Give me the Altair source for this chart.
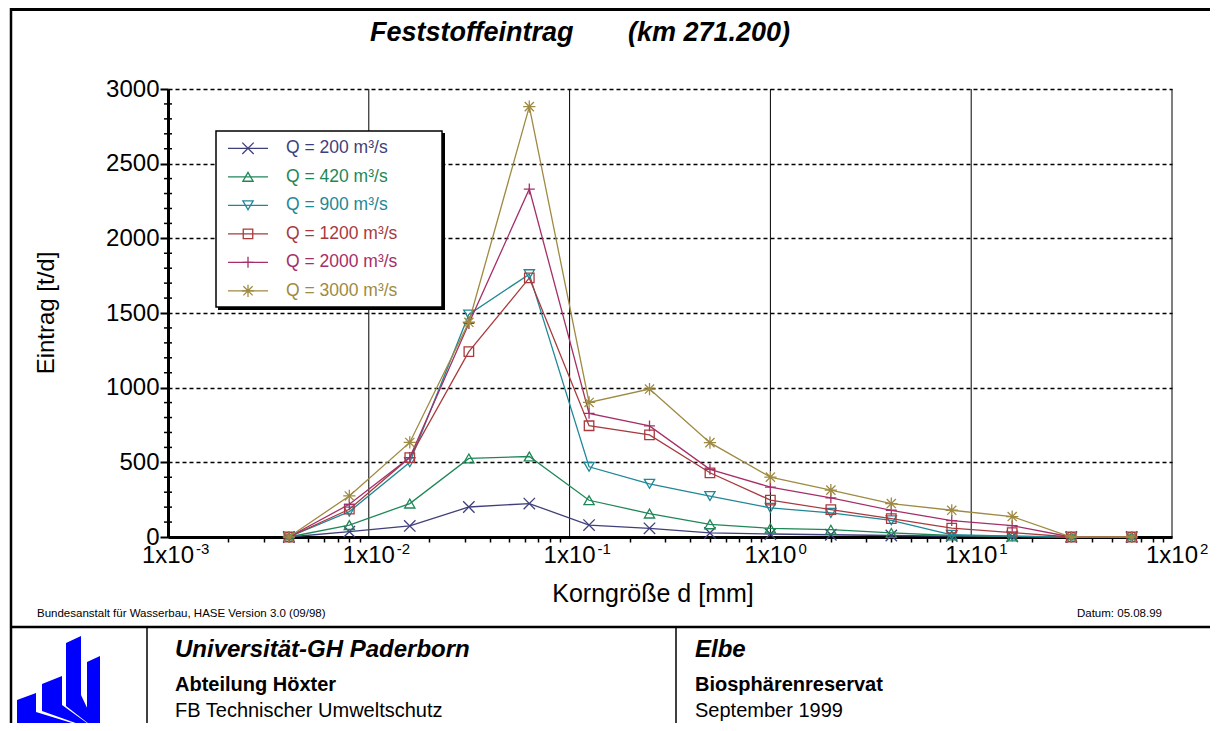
import altair as alt
import pandas as pd

# ---------------- data ----------------
grain_mm = [0.004, 0.008, 0.016, 0.0315, 0.063, 0.125, 0.25, 0.5, 1.0, 2.0, 4.0, 8.0, 16.0, 31.5, 63.0]

series_labels = ["Q = 200 m³/s", "Q = 420 m³/s", "Q = 900 m³/s",
                 "Q = 1200 m³/s", "Q = 2000 m³/s", "Q = 3000 m³/s"]

q200 = [0, 36, 74, 201, 224, 80, 58, 27, 20, 15, 10, 6, 4, 0, 0]
q420 = [0, 80, 224, 526, 539, 246, 157, 85, 58, 49, 27, 10, 4, 0, 0]
q900 = [0, 170, 500, 1490, 1760, 470, 356, 274, 195, 161, 112, 15, 5, 0, 0]
q1200 = [0, 186, 532, 1241, 1735, 745, 684, 430, 247, 184, 123, 60, 29, 0, 0]
q2000 = [0, 219, 532, 1430, 2330, 828, 744, 453, 334, 262, 179, 110, 76, 0, 0]
q3000 = [0, 275, 633, 1438, 2882, 901, 991, 632, 401, 314, 224, 179, 137, 0, 0]
series_values = [q200, q420, q900, q1200, q2000, q3000]

series_colors = ["#3f3f7c", "#1f8757", "#1f8796", "#a83a3e", "#a52f68", "#9e8a42"]

decades = [0.001, 0.01, 0.1, 1, 10, 100]
decade_base = ["1x10"] * 6
decade_exp = ["-3", "-2", "-1", "0", "1", "2"]
y_ticks = [0, 500, 1000, 1500, 2000, 2500, 3000]
y_minor = [v for v in range(100, 3000, 100) if v % 500]
x_minor = [m * 10.0 ** k for k in range(-3, 2) for m in range(2, 10)]

title_left = "Feststoffeintrag"
title_right = "(km 271.200)"
x_title = "Korngröße d [mm]"
y_title = "Eintrag [t/d]"
note_left = "Bundesanstalt für Wasserbau, HASE Version 3.0 (09/98)"
note_right = "Datum: 05.08.99"
foot_left = ["Universität-GH Paderborn", "Abteilung Höxter", "FB Technischer Umweltschutz"]
foot_right = ["Elbe", "Biosphärenreservat", "September 1999"]

# ---------------- layout ----------------
FONT = "Liberation Sans"
W, H = 1004, 448
PL, PT, PR, PB = 160, 81, 38, 186
X_END = 1202 - PL


def px(page_x):
    return page_x - 168


def py(page_y):
    return page_y - 89


one = pd.DataFrame({"k": [0]})
xscale = alt.Scale(type="log", domain=[0.001, 100], nice=False)
yscale = alt.Scale(domain=[0, 3000], nice=False, zero=True)

shape_x = "M-1,-1L1,1M-1,1L1,-1"
shape_plus = "M0,-1L0,1M-1,0L1,0"
shape_star = "M0,-1L0,1M-1,0L1,0M-0.75,-0.75L0.75,0.75M-0.75,0.75L0.75,-0.75"
marker_shapes = [shape_x, "triangle-up", "triangle-down", "square", shape_plus, shape_star]
marker_sizes = [130, 105, 105, 90, 120, 150]

X_ENC = alt.X("d:Q", scale=xscale)
Y_ENC = alt.Y("v:Q", scale=yscale)

layers = []

# axes carrier (invisible) with y grid and axes
axis_df = pd.DataFrame({"d": [0.001, 100], "v": [0, 3000]})
layers.append(
    alt.Chart(axis_df).mark_point(opacity=0).encode(
        x=alt.X("d:Q", scale=xscale, axis=alt.Axis(
            values=x_minor, labels=False, tickSize=5, tickWidth=1.5, tickColor="black",
            domainColor="black", domainWidth=3, grid=False, title=None)),
        y=alt.Y("v:Q", scale=yscale, axis=alt.Axis(
            values=y_ticks, tickSize=8, tickWidth=2, tickColor="black",
            labelFontSize=24, labelFont=FONT, labelColor="black", labelPadding=1,
            domainColor="black", domainWidth=3, grid=True, gridColor="black",
            gridDash=[4, 3], gridWidth=1.5, title=None, format="d")),
    )
)

# vertical decade lines
layers.append(
    alt.Chart(pd.DataFrame({"d": decades[1:]})).mark_rule(color="black", strokeWidth=1).encode(
        x=X_ENC, y=alt.value(0), y2=alt.value(H))
)

# minor y ticks crossing the axis
layers.append(
    alt.Chart(pd.DataFrame({"v": y_minor})).mark_rule(color="black", strokeWidth=1.5).encode(
        y=Y_ENC, x=alt.value(-4), x2=alt.value(4))
)

# data series
for lab, vals, col, shp, sz in zip(series_labels, series_values, series_colors, marker_shapes, marker_sizes):
    df = pd.DataFrame({"d": grain_mm, "v": vals})
    layers.append(alt.Chart(df).mark_line(color=col, strokeWidth=1.3).encode(x=X_ENC, y=Y_ENC))
    layers.append(alt.Chart(df).mark_point(color=col, shape=shp, size=sz, filled=False,
                                           strokeWidth=1.3, opacity=1).encode(x=X_ENC, y=Y_ENC))

# x tick labels with superscripts
lab_df = pd.DataFrame({"d": decades, "t": decade_base, "e": decade_exp})
layers.append(
    alt.Chart(lab_df).mark_text(font=FONT, fontSize=24, align="center", baseline="alphabetic",
                                color="black").encode(
        x=X_ENC, y=alt.value(py(563)), text="t:N")
)
layers.append(
    alt.Chart(lab_df).mark_text(font=FONT, fontSize=15, align="left", baseline="alphabetic",
                                color="black", dx=28).encode(
        x=X_ENC, y=alt.value(py(554)), text="e:N")
)

# legend box
layers.append(
    alt.Chart(one).mark_rect(fill="white", stroke="black", strokeWidth=1.5).encode(
        x=alt.value(px(216)), x2=alt.value(px(442)), y=alt.value(py(131)), y2=alt.value(py(307)))
)
layers.append(
    alt.Chart(one).mark_rule(color="black", strokeWidth=3).encode(
        x=alt.value(px(443.5)), y=alt.value(py(133)), y2=alt.value(py(309.5)))
)
layers.append(
    alt.Chart(one).mark_rule(color="black", strokeWidth=3).encode(
        x=alt.value(px(218)), x2=alt.value(px(445)), y=alt.value(py(308.5)))
)
for i, (lab, col, shp, sz) in enumerate(zip(series_labels, series_colors, marker_shapes, marker_sizes)):
    ly = py(148.3 + i * 28.5)
    layers.append(alt.Chart(one).mark_rule(color=col, strokeWidth=1.3).encode(
        x=alt.value(px(228)), x2=alt.value(px(268)), y=alt.value(ly)))
    layers.append(alt.Chart(one).mark_point(color=col, shape=shp, size=sz, filled=False,
                                            strokeWidth=1.3, opacity=1).encode(
        x=alt.value(px(248)), y=alt.value(ly)))
    layers.append(alt.Chart(pd.DataFrame({"t": [lab]})).mark_text(
        font=FONT, fontSize=17.5, align="left", baseline="middle", color=col).encode(
        x=alt.value(px(286)), y=alt.value(ly), text="t:N"))


def text(t, x, y, size, weight="normal", style="normal", align="left", angle=0, baseline="alphabetic"):
    return alt.Chart(pd.DataFrame({"t": [t]})).mark_text(
        font=FONT, fontSize=size, fontWeight=weight, fontStyle=style, align=align,
        angle=angle, baseline=baseline, color="black").encode(
        x=alt.value(x), y=alt.value(y), text="t:N")


layers.append(text(title_left, px(370), py(41), 27, "bold", "italic"))
layers.append(text(title_right, px(709), py(41), 27, "bold", "italic", align="center"))
layers.append(text(x_title, px(653), py(602), 25, align="center"))
layers.append(text(y_title, px(47), py(313), 24, align="center", angle=270, baseline="middle"))
layers.append(text(note_left, px(37), py(617), 11.5))
layers.append(text(note_right, px(1162), py(617), 11.5, align="right"))

layers.append(text(foot_left[0], px(175), py(657), 24, "bold", "italic"))
layers.append(text(foot_left[1], px(175), py(691), 20, "bold"))
layers.append(text(foot_left[2], px(175), py(717), 20))
layers.append(text(foot_right[0], px(695), py(657), 24, "bold", "italic"))
layers.append(text(foot_right[1], px(695), py(691), 20, "bold"))
layers.append(text(foot_right[2], px(695), py(717), 20))

# frame and footer lines
layers.append(alt.Chart(one).mark_rule(color="black", strokeWidth=3).encode(
    x=alt.value(px(11)), x2=alt.value(X_END), y=alt.value(py(9.5))))
layers.append(alt.Chart(one).mark_rule(color="black", strokeWidth=2.5).encode(
    x=alt.value(px(11)), y=alt.value(py(8)), y2=alt.value(H + PB)))
layers.append(alt.Chart(one).mark_rule(color="black", strokeWidth=2.5).encode(
    x=alt.value(px(11)), x2=alt.value(X_END), y=alt.value(py(627))))
layers.append(alt.Chart(one).mark_rule(color="black", strokeWidth=1.5).encode(
    x=alt.value(px(147)), y=alt.value(py(627)), y2=alt.value(H + PB)))
layers.append(alt.Chart(one).mark_rule(color="black", strokeWidth=1.5).encode(
    x=alt.value(px(676)), y=alt.value(py(627)), y2=alt.value(H + PB)))

# university logo (decorative)
logo_path = ("M17,700L36,693L36,712L98,731L17,731Z"
             "M42,684L62,676L62,705L98,731L42,711Z"
             "M66,643L81,636L81,695L98,731L66,706Z"
             "M87,662L100,656L100,726L98,731L87,708Z")
layers.append(alt.Chart(one).mark_point(shape=logo_path, size=4, filled=True, color="#0000ff",
                                        strokeWidth=0, opacity=1).encode(
    x=alt.value(px(0)), y=alt.value(py(0))))

chart = alt.layer(*layers).properties(
    width=W, height=H,
    padding={"left": PL, "top": PT, "right": PR, "bottom": PB},
    autosize=alt.AutoSizeParams(type="none"),
    background="white",
).configure_view(stroke=None)

chart.save("out.html", embed_options={"renderer": "svg", "actions": False})
